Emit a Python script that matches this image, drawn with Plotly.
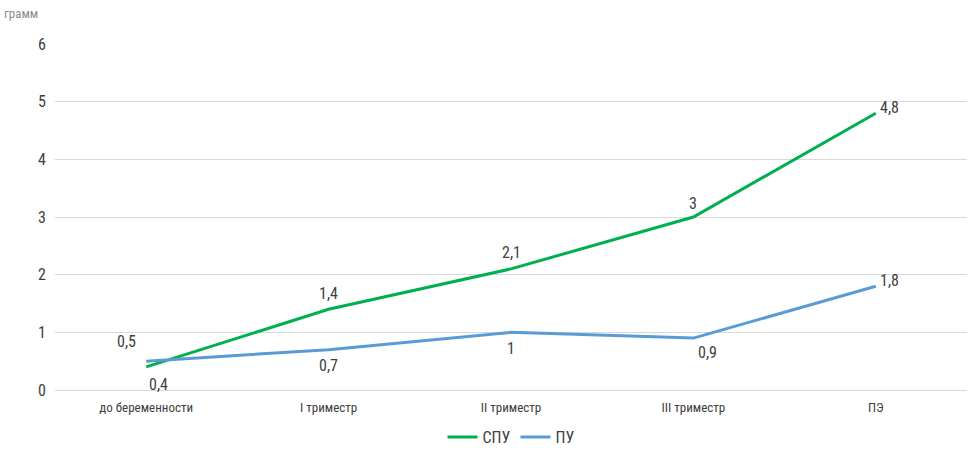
import plotly.graph_objects as go

categories = ["до беременности", "I триместр", "II триместр", "III триместр", "ПЭ"]
spu = [0.4, 1.4, 2.1, 3, 4.8]
pu = [0.5, 0.7, 1, 0.9, 1.8]
spu_labels = ["0,4", "1,4", "2,1", "3", "4,8"]
pu_labels = ["0,5", "0,7", "1", "0,9", "1,8"]

FONT = "Liberation Sans Narrow, Roboto Condensed, Arial Narrow, Roboto, sans-serif"
GREEN = "#00B050"
BLUE = "#5B9BD5"
TXT = "#404040"

fig = go.Figure()
fig.add_trace(go.Scatter(x=list(range(len(categories))), y=spu, mode="lines", name="СПУ",
                         line=dict(color=GREEN, width=3)))
fig.add_trace(go.Scatter(x=list(range(len(categories))), y=pu, mode="lines", name="ПУ",
                         line=dict(color=BLUE, width=3)))

spu_off = [(12, -18), (0, 16), (0, 16), (0, 14), (14, 6)]
pu_off = [(-20, 20), (0, -16), (0, -16), (14, -14), (14, 6)]
for i, (v, t) in enumerate(zip(spu, spu_labels)):
    fig.add_annotation(x=i, y=v, text=t, showarrow=False, xshift=spu_off[i][0], yshift=spu_off[i][1],
                       font=dict(family=FONT, size=16, color=TXT))
for i, (v, t) in enumerate(zip(pu, pu_labels)):
    fig.add_annotation(x=i, y=v, text=t, showarrow=False, xshift=pu_off[i][0], yshift=pu_off[i][1],
                       font=dict(family=FONT, size=16, color=TXT))

fig.add_annotation(xref="paper", yref="paper", x=-0.058, y=1.06, xanchor="left", yanchor="bottom",
                   text="грамм", showarrow=False, font=dict(family=FONT, size=13, color="#8c8c8c"))

fig.update_layout(
    width=971, height=453,
    margin=dict(l=55, r=4, t=44, b=63, autoexpand=False),
    paper_bgcolor="white", plot_bgcolor="white",
    font=dict(family=FONT, color=TXT),
    showlegend=True,
    legend=dict(orientation="h", x=0.5, xanchor="center", y=-0.136, yanchor="middle",
                font=dict(family=FONT, size=16, color=TXT),
                tracegroupgap=0),
    xaxis=dict(tickmode="array", tickvals=list(range(len(categories))), ticktext=categories,
               range=[-0.5, 4.5], showgrid=False, zeroline=False, showline=False,
               tickfont=dict(family=FONT, size=13, color=TXT), ticks="", ticklabelstandoff=8),
    yaxis=dict(range=[0, 6], dtick=1, showgrid=True, gridcolor="#d9d9d9", gridwidth=1,
               zeroline=True, zerolinecolor="#d9d9d9", zerolinewidth=1, showline=False,
               tickfont=dict(family=FONT, size=16, color=TXT), ticks="", ticklabelstandoff=8),
)

fig.write_html("out.html")
